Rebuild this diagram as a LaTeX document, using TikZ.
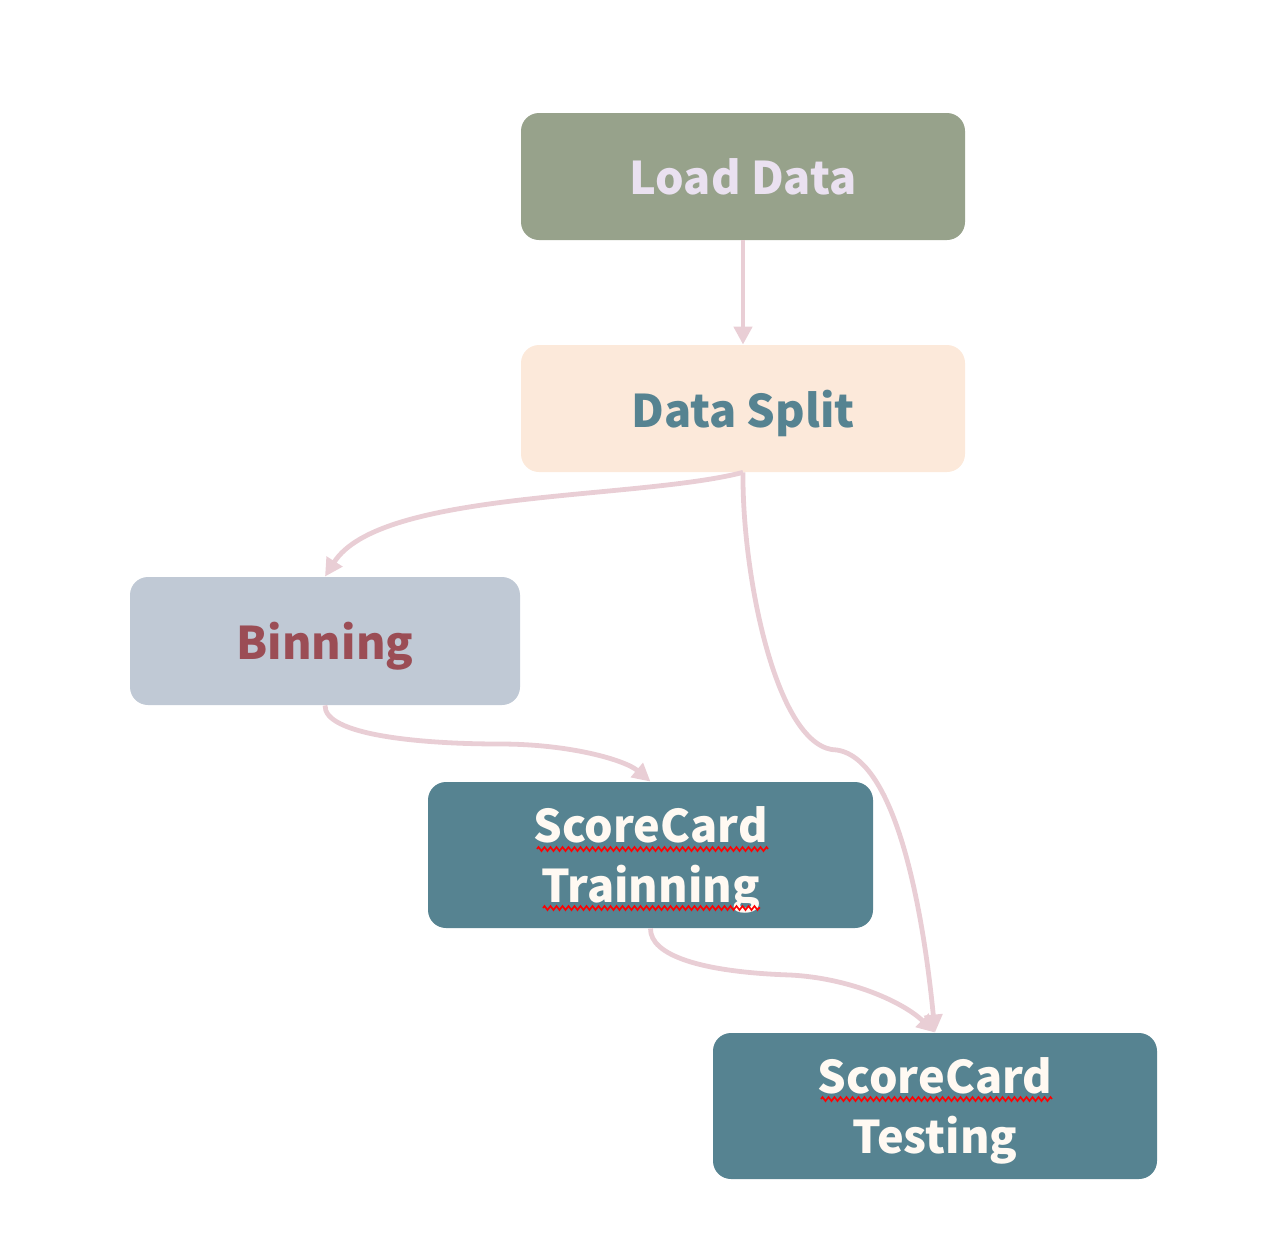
\documentclass[tikz,border=0pt]{standalone}
\usepackage{fontspec}
\setmainfont{Noto Sans CJK SC}
\usetikzlibrary{arrows.meta,decorations.pathmorphing}
\definecolor{loadfill}{HTML}{97A28B}
\definecolor{loadtext}{HTML}{EAE1F0}
\definecolor{splitfill}{HTML}{FCE9DA}
\definecolor{splittext}{HTML}{568391}
\definecolor{binfill}{HTML}{C0C9D5}
\definecolor{bintext}{HTML}{9B4D55}
\definecolor{cardfill}{HTML}{568391}
\definecolor{cardtext}{HTML}{FFF9F2}
\definecolor{arrowpink}{HTML}{E9CED5}

\begin{document}
\begin{tikzpicture}[x=0.5pt,y=-0.5pt,
 flowbox/.style={rounded corners=9pt,minimum width=222pt,minimum height=63.5pt,inner sep=0pt,align=center,
 font=\fontsize{22.5}{30}\selectfont\bfseries},
 onebox/.style={flowbox,text depth=0pt},
 cardbox/.style={flowbox,fill=cardfill,text=cardtext,minimum height=73pt},
 flowarrow/.style={draw=arrowpink,line width=2.4pt,-{Triangle[length=9pt,width=9pt]}},
 spell/.style={draw=red,line width=0.8pt,decorate,decoration={zigzag,amplitude=1pt,segment length=3pt}}]
\useasboundingbox (0,0) rectangle (1282,1260);
\node[onebox,fill=loadfill,text=loadtext] (load) at (743,176.5) {Load Data};
\node[onebox,fill=splitfill,text=splittext] (split) at (743,408.5) {Data Split};
\node[onebox,fill=binfill,text=bintext,minimum width=195pt,minimum height=64pt] (bin) at (325,641) {Binning};
\node[cardbox,minimum width=222.5pt] (train) at (650.5,855) {\rule{0pt}{23pt}ScoreCard\\Trainning};
\node[cardbox] (test) at (935,1106) {\rule{0pt}{23pt}ScoreCard\\Testing};
\coordinate (bendA) at (837,750);
\coordinate (bendB) at (500,744);
\coordinate (bendC) at (790,975);
\draw[flowarrow] (load) -- (split);
\draw[flowarrow] (split.south) .. controls (635,500) and (380,490) .. (bin.north);
\draw[flowarrow] (split.south) .. controls (742,576) and (777,750) .. (bendA) .. controls (900,760) and (925,930) .. (test.north);
\draw[flowarrow] (bin.south) .. controls (324,735) and (420,744) .. (bendB) .. controls (570,744) and (625,760) .. (train.north);
\draw[flowarrow] (train.south) .. controls (650,955) and (700,972) .. (bendC) .. controls (850,978) and (903,1002) .. (test.north);
\draw[spell] (537,849) -- (768,849);
\draw[spell] (543,908) -- (760,908);
\draw[spell] (821,1099) -- (1052,1099);
\end{tikzpicture}
\end{document}
